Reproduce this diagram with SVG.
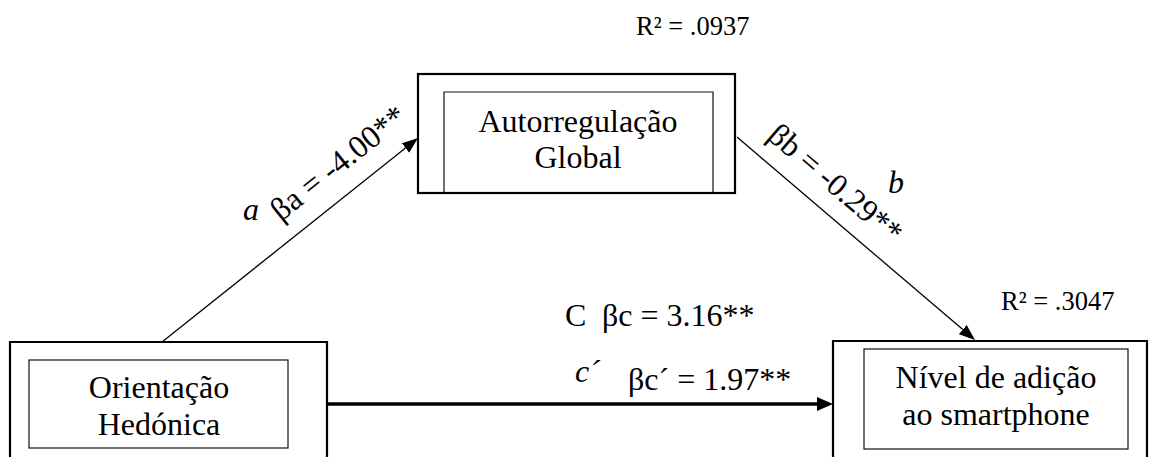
<svg xmlns="http://www.w3.org/2000/svg" width="1151" height="457" viewBox="0 0 1151 457">
  <style>
    .outer { fill: none; stroke: #000; stroke-width: 2.2; }
    .inner { fill: none; stroke: #111; stroke-width: 1.2; }
    .t { font-family: "Liberation Serif", "Times New Roman", serif; font-size: 32px; fill: #000; }
    .c { text-anchor: middle; }
    .i { font-style: italic; }
    .r2 { font-family: "Liberation Serif", "Times New Roman", serif; font-size: 26.5px; fill: #000; }
    .thin { stroke: #000; stroke-width: 1.3; fill: none; }
    .thick { stroke: #000; stroke-width: 3.4; fill: none; }
  </style>
  <defs>
    <marker id="ah" markerUnits="userSpaceOnUse" markerWidth="17" markerHeight="13" refX="0" refY="6" orient="auto">
      <path d="M0,0 L16,6 L0,12 z" fill="#000"/>
    </marker>
    <marker id="ahk" markerUnits="userSpaceOnUse" markerWidth="17" markerHeight="15" refX="0" refY="7" orient="auto">
      <path d="M0,0 L16,7 L0,14 z" fill="#000"/>
    </marker>
  </defs>
  <rect x="0" y="0" width="1151" height="457" fill="#fff"/>

  <g id="connectors">
    <line class="thin" x1="162" y1="342" x2="405.5" y2="148" marker-end="url(#ah)"/>
    <line class="thin" x1="737" y1="137" x2="962.8" y2="329.6" marker-end="url(#ah)"/>
    <line class="thick" x1="327" y1="404" x2="817" y2="404" marker-end="url(#ahk)"/>
  </g>

  <g id="node-autorregulacao">
    <rect class="outer" x="418" y="74" width="317" height="119"/>
    <polyline class="inner" points="444,193 444,92 713,92 713,193"/>
    <text class="t c" x="578" y="132">Autorregulação</text>
    <text class="t c" x="578" y="168">Global</text>
  </g>

  <g id="node-orientacao">
    <polyline class="outer" points="10,470 10,342 327,342 327,470"/>
    <rect class="inner" x="29" y="360" width="259" height="88"/>
    <text class="t c" x="159" y="398">Orientação</text>
    <text class="t c" x="159" y="435">Hedónica</text>
  </g>

  <g id="node-nivel">
    <polyline class="outer" points="833,470 833,341 1147,341 1147,470"/>
    <rect class="inner" x="864" y="349" width="264" height="100"/>
    <text class="t c" x="996" y="388">Nível de adição</text>
    <text class="t c" x="996" y="425">ao smartphone</text>
  </g>

  <g id="labels">
    <text class="r2" x="636" y="35">R² = .0937</text>
    <text class="r2" x="1001" y="310">R² = .3047</text>
    <text class="t i" x="243" y="220">a</text>
    <text class="t" transform="translate(281,222) rotate(-38.6)">βa = -4.00**</text>
    <text class="t" transform="translate(766,138) rotate(40.5)">βb = -0.29**</text>
    <text class="t i" x="888" y="193">b</text>
    <text class="t" x="565" y="326">C</text>
    <text class="t" x="602" y="326">βc = 3.16**</text>
    <text class="t i" x="575" y="382">c´</text>
    <text class="t" x="628" y="390">βc´ = 1.97**</text>
  </g>
</svg>
